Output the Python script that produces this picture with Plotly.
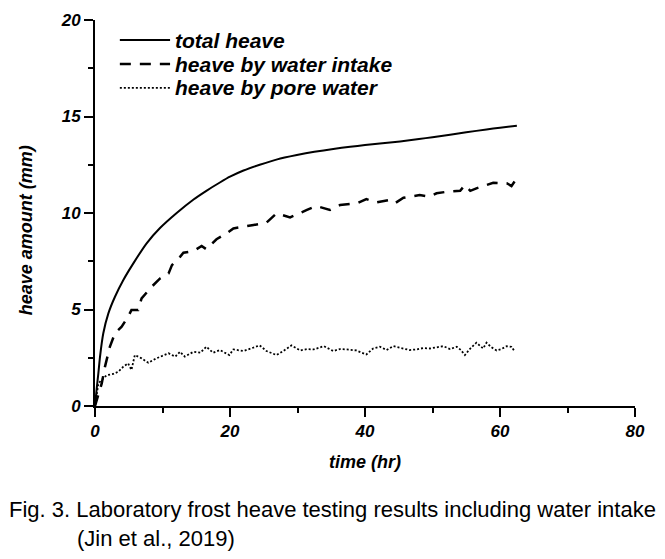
import plotly.graph_objects as go

# ---- data ----
total_t = [0, 0.25, 0.5, 0.74, 1.23, 1.98, 2.96, 4.2, 5.68, 7.65, 9.63, 12.1, 14.6, 16.5, 18.5, 20, 22, 24.4, 27, 29.9, 32.5, 35.3, 37.8, 40, 42.2, 45.2, 48, 50, 52.6, 55, 58, 60, 62.5]
total_h = [0, 0.9, 1.7, 2.55, 3.77, 4.8, 5.66, 6.53, 7.39, 8.43, 9.22, 10.0, 10.7, 11.15, 11.58, 11.88, 12.2, 12.5, 12.78, 13.0, 13.17, 13.32, 13.43, 13.52, 13.6, 13.71, 13.83, 13.93, 14.06, 14.18, 14.33, 14.42, 14.52]

intake_t = [0, 0.5, 1.0, 1.48, 2.2, 2.96, 3.95, 4.9, 5.4, 6.4, 6.9, 8.4, 9.6, 10.9, 11.4, 12.6, 13.1, 14.6, 15.8, 16.5, 18.0, 19.5, 20.5, 23.5, 25.4, 26.9, 28.9, 31.4, 32.8, 34.8, 36.3, 38.8, 40.2, 41.7, 43.5, 44.4, 45.7, 48.1, 49.6, 50.6, 52.1, 54.1, 54.8, 55.6, 56.5, 58.0, 59.0, 61.0, 61.7, 62.5]
intake_h = [0, 0.55, 1.17, 2.04, 3.07, 3.77, 4.11, 4.63, 4.97, 4.97, 5.58, 6.18, 6.6, 6.87, 7.3, 7.73, 7.94, 8.03, 8.29, 8.12, 8.64, 8.95, 9.2, 9.38, 9.5, 9.98, 9.77, 10.16, 10.36, 10.16, 10.41, 10.5, 10.72, 10.55, 10.67, 10.5, 10.79, 10.93, 10.85, 11.02, 11.1, 11.15, 11.45, 11.15, 11.28, 11.45, 11.57, 11.54, 11.4, 11.8]

pore_t = [0, 0.25, 0.5, 1.0, 1.73, 2.7, 3.46, 4.2, 4.9, 5.4, 5.9, 6.9, 7.9, 9.1, 10.9, 11.9, 12.6, 13.3, 14.6, 15.6, 16.5, 17.5, 18.5, 19.9, 20.5, 22.0, 23.0, 24.4, 25.4, 26.9, 27.9, 29.1, 30.4, 31.4, 32.4, 33.9, 35.3, 36.3, 37.3, 38.7, 40.2, 41.2, 42.2, 43.2, 44.2, 45.7, 46.6, 47.6, 48.6, 49.6, 50.6, 51.6, 52.6, 53.6, 54.2, 54.8, 55.6, 56.5, 57.5, 58.0, 58.7, 59.5, 60.2, 61.0, 61.7, 62.2]
pore_h = [0, 0.6, 1.17, 1.35, 1.6, 1.66, 1.78, 2.04, 2.21, 1.87, 2.64, 2.47, 2.24, 2.47, 2.73, 2.56, 2.81, 2.56, 2.81, 2.76, 3.07, 2.76, 2.9, 2.64, 2.93, 2.85, 2.98, 3.14, 2.85, 2.64, 2.85, 3.14, 2.88, 2.95, 2.93, 3.1, 2.85, 2.95, 2.93, 2.88, 2.67, 2.98, 3.07, 2.9, 3.1, 2.98, 2.9, 2.93, 3.0, 2.98, 3.05, 3.1, 2.95, 3.07, 2.9, 2.64, 2.98, 3.28, 2.98, 3.28, 3.05, 2.88, 2.95, 3.1, 3.07, 2.81]

series_names = ["total heave", "heave by water intake", "heave by pore water"]

x_ticks = [0, 20, 40, 60, 80]
y_ticks = [0, 5, 10, 15, 20]

x_title = "time (hr)"
y_title = "heave amount (mm)"
caption_lines = ["Fig. 3. Laboratory frost heave testing results including water intake",
                 "(Jin et al., 2019)"]

FONT = "Liberation Sans, Arial, sans-serif"
styles = [dict(color="black", width=2, shape="spline", smoothing=0.6),
          dict(color="black", width=2.5, dash="11px,9px"),
          dict(color="black", width=1.8, dash="2px,2px")]

fig = go.Figure()
for t, h, name, st in zip([total_t, intake_t, pore_t], [total_h, intake_h, pore_h], series_names, styles):
    fig.add_trace(go.Scatter(x=t, y=h, mode="lines", name=name, line=st, showlegend=False))

tickfont = dict(family=FONT, size=17, color="black", weight="bold", style="italic")
titlefont = dict(family=FONT, size=18, color="black", weight="bold", style="italic")

# page body has an 8px margin, so the figure is 8px smaller than the window
fig.update_layout(
    width=657, height=551,
    margin=dict(l=87, r=30, t=12, b=153),
    paper_bgcolor="white", plot_bgcolor="white",
    showlegend=False,
    xaxis=dict(range=[0, 80], tickvals=x_ticks, ticktext=[str(v) for v in x_ticks],
               automargin=False,
               showgrid=False, zeroline=False, showline=True, linecolor="black", linewidth=2,
               ticks="outside", ticklen=9, tickwidth=2, tickcolor="black",
               minor=dict(dtick=10, ticks="outside", ticklen=5, tickwidth=2, tickcolor="black"),
               tickfont=tickfont,
               title=dict(text=x_title, font=titlefont)),
    yaxis=dict(range=[0, 20], tickvals=y_ticks, ticktext=[str(v) for v in y_ticks],
               automargin=False,
               showgrid=False, zeroline=False, showline=True, linecolor="black", linewidth=2,
               ticks="outside", ticklen=9, tickwidth=2, tickcolor="black",
               minor=dict(dtick=2.5, ticks="outside", ticklen=5, tickwidth=2, tickcolor="black"),
               tickfont=tickfont),
)

# y-axis title (placed slightly below the axis middle, as in the reference)
fig.add_annotation(text=y_title, xref="paper", yref="paper", x=-0.128, y=0.455,
                   xanchor="center", yanchor="middle", textangle=-90, showarrow=False,
                   font=titlefont)

# legend drawn inside the plot, top-left
legfont = dict(family=FONT, size=21, color="black", weight="bold", style="italic")
leg_y = [0.948, 0.886, 0.824]
leg_styles = [dict(color="black", width=2),
              dict(color="black", width=2.5, dash="11px,9px"),
              dict(color="black", width=1.8, dash="2px,2px")]
for name, st, ly in zip(series_names, leg_styles, leg_y):
    fig.add_shape(type="line", xref="paper", yref="paper", x0=0.046, x1=0.139, y0=ly, y1=ly,
                  line=st)
    fig.add_annotation(text=name, xref="paper", yref="paper", x=0.145, y=ly,
                       xanchor="left", yanchor="middle", showarrow=False, font=legfont)

capfont = dict(family=FONT, size=22, color="black")
fig.add_annotation(text=caption_lines[0], xref="paper", yref="paper", x=-0.163, y=-0.269,
                   xanchor="left", yanchor="middle", showarrow=False, font=capfont)
fig.add_annotation(text=caption_lines[1], xref="paper", yref="paper", x=-0.037, y=-0.342,
                   xanchor="left", yanchor="middle", showarrow=False, font=capfont)

fig.write_html("out.html")
